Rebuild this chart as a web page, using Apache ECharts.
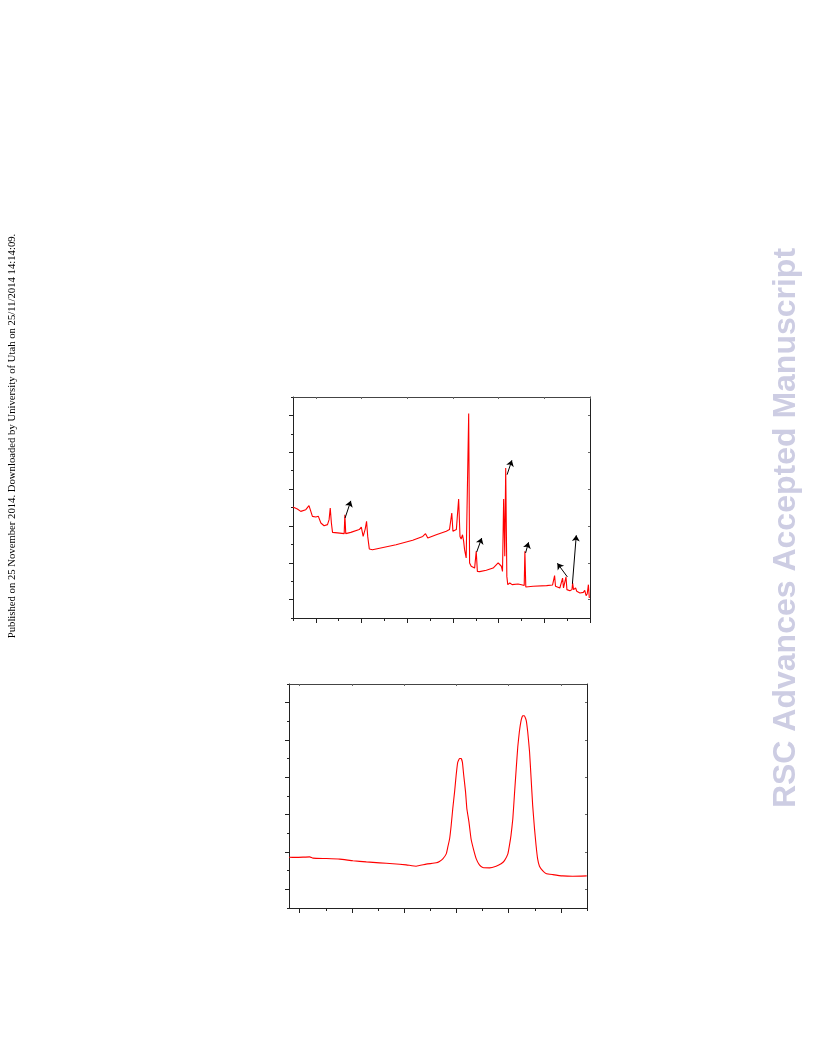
<!DOCTYPE html>
<html>
<head>
<meta charset="utf-8">
<script src="https://cdn.jsdelivr.net/npm/echarts@6/dist/echarts.min.js"></script>
<style>
html,body{margin:0;padding:0;background:#fff;}
#c{width:816px;height:1056px;}
</style>
</head>
<body>
<div id="c"></div>
<script>
// ---- Top chromatogram (arbitrary units, no tick labels in source) ----
const topX = [1.00,1.19,1.34,1.56,1.70,1.78,1.85,2.00,2.11,2.22,2.36,2.51,2.58,2.63,2.68,2.73,2.95,3.24,3.27,3.31,3.53,3.90,3.99,4.07,4.16,4.22,4.27,4.34,4.48,5.51,6.24,6.68,6.80,6.90,7.27,7.71,7.85,7.91,7.95,8.00,8.15,8.25,8.31,8.36,8.42,8.47,8.51,8.58,8.63,8.69,8.73,8.80,8.95,9.01,9.02,9.07,9.17,9.46,9.76,9.98,10.05,10.12,10.17,10.22,10.27,10.31,10.36,10.40,10.49,10.53,10.59,10.85,10.93,11.00,11.12,11.15,11.19,11.51,12.10,12.36,12.42,12.45,12.49,12.68,12.76,12.80,12.84,12.92,12.95,12.99,13.12,13.21,13.24,13.28,13.37,13.42,13.56,13.64,13.71,13.77,13.83,13.88,13.93,13.97,14.00];
const topY = [7.03,6.92,6.79,6.88,7.10,7.15,6.52,6.48,6.52,6.16,6.01,6.07,6.34,6.97,6.16,5.65,5.62,5.58,6.61,5.58,5.65,5.80,5.94,5.43,5.83,6.25,5.43,4.75,4.71,4.98,5.22,5.43,5.58,5.34,5.52,5.71,5.80,5.80,6.70,5.71,5.80,7.46,5.43,5.29,5.52,5.16,4.71,4.26,4.35,12.10,3.99,3.81,3.71,3.62,4.62,3.53,3.52,3.59,3.71,3.99,4.02,3.81,3.53,7.46,4.35,9.14,3.26,2.81,2.90,2.97,2.81,2.85,2.95,2.81,2.76,4.62,2.68,2.72,2.76,2.79,2.72,3.30,2.72,2.63,2.68,3.17,2.63,2.57,3.23,2.54,2.48,2.54,2.90,2.54,2.63,2.45,2.36,2.27,2.39,2.50,2.21,2.32,2.81,2.09,2.09];
const topXMinor = [1,2,3,4,5,6,7,8,9,10,11,12,13,14];
const topXMajor = [2,4,6,8,10,12,14];
const topYMinor = [1,2,3,4,5,6,7,8,9,10,11,12,13];
const topYMajor = [2,4,6,8,10,12];
// arrow annotations: start and end points
const arrowFrom = [[3.28,6.43],[9.04,4.58],[10.37,8.78],[11.18,4.53],[13.01,3.23],[13.23,2.86]];
const arrowTo   = [[3.53,7.36],[9.26,5.34],[10.58,9.56],[11.31,5.11],[12.57,3.97],[13.40,5.49]];

// ---- Bottom chromatogram ----
const botX = [9.59,9.87,10.38,10.51,11.02,11.53,12.04,12.55,13.06,13.57,14.08,14.46,14.84,15.23,15.35,15.48,15.61,15.67,15.74,15.80,15.86,15.93,15.99,16.05,16.12,16.18,16.23,16.28,16.35,16.40,16.48,16.56,16.65,16.76,16.88,17.01,17.27,17.52,17.71,17.84,17.97,18.03,18.09,18.16,18.22,18.29,18.35,18.41,18.48,18.54,18.60,18.67,18.73,18.80,18.86,18.92,18.99,19.05,19.11,19.18,19.31,19.43,19.69,20.07,20.45,20.99];
const botY = [3.72,3.71,3.74,3.67,3.65,3.62,3.53,3.47,3.42,3.37,3.31,3.24,3.35,3.42,3.49,3.63,3.90,4.26,4.71,5.43,6.32,7.22,8.11,8.80,9.01,9.01,8.80,8.11,7.22,6.32,5.61,4.71,4.17,3.63,3.31,3.17,3.15,3.24,3.37,3.54,3.90,4.35,4.89,5.78,7.04,8.47,9.64,10.44,11.07,11.30,11.30,11.07,10.44,9.37,7.94,6.50,5.25,4.35,3.63,3.24,2.99,2.85,2.79,2.72,2.70,2.72];
const botXMinor = [11,12,13,14,15,16,17,18,19,20,21];
const botXMajor = [10,12,14,16,18,20];
const botYMinor = [1,2,3,4,5,6,7,8,9,10,11,12,13];
const botYMajor = [2,4,6,8,10,12];

const sideText = 'Published on 25 November 2014. Downloaded by University of Utah on 25/11/2014 14:14:09.';
const watermark = 'RSC Advances Accepted Manuscript';

const AX = '#222';
function xAxes(g, min, max, minor, major){
  const base = {gridIndex:g, type:'value', min:min, max:max, axisLabel:{show:false}, splitLine:{show:false}};
  return [
    Object.assign({}, base, {position:'bottom', axisLine:{show:true, onZero:false, lineStyle:{color:AX,width:1}},
      axisTick:{show:true, inside:false, length:3, customValues:minor, lineStyle:{color:AX,width:1}}}),
    Object.assign({}, base, {position:'bottom', axisLine:{show:false, onZero:false},
      axisTick:{show:true, inside:false, length:5, customValues:major, lineStyle:{color:AX,width:1}}}),
    Object.assign({}, base, {position:'top', axisLine:{show:true, onZero:false, lineStyle:{color:'#444',width:1}},
      axisTick:{show:true, inside:true, length:2, customValues:major, lineStyle:{color:'#666',width:1}}})
  ];
}
function yAxes(g, min, max, minor, major){
  const base = {gridIndex:g, type:'value', min:min, max:max, axisLabel:{show:false}, splitLine:{show:false}};
  return [
    Object.assign({}, base, {position:'left', axisLine:{show:true, onZero:false, lineStyle:{color:AX,width:1}},
      axisTick:{show:true, inside:false, length:2, customValues:minor, lineStyle:{color:AX,width:1}}}),
    Object.assign({}, base, {position:'left', axisLine:{show:false, onZero:false},
      axisTick:{show:true, inside:false, length:4, customValues:major, lineStyle:{color:AX,width:1}}}),
    Object.assign({}, base, {position:'right', axisLine:{show:true, onZero:false, lineStyle:{color:AX,width:1}},
      axisTick:{show:true, inside:true, length:2, customValues:major, lineStyle:{color:'#666',width:1}}})
  ];
}

const chart = echarts.init(document.getElementById('c'), null, {renderer:'canvas'});
const arrowData = arrowFrom.map((p,i)=>[{coord:p},{coord:arrowTo[i]}]);

chart.setOption({
  animation:false,
  backgroundColor:'#fff',
  grid:[
    {left:293, top:397, width:297, height:221},
    {left:289, top:684, width:298, height:224}
  ],
  xAxis: xAxes(0, 1, 14, topXMinor, topXMajor).concat(xAxes(1, 9.59, 21, botXMinor, botXMajor)),
  yAxis: yAxes(0, 1, 13, topYMinor, topYMajor).concat(yAxes(1, 1, 13, botYMinor, botYMajor)),
  series:[
    {type:'line', xAxisIndex:0, yAxisIndex:0, data: topX.map((x,i)=>[x, topY[i]]),
     showSymbol:false, lineStyle:{color:'#ff0000', width:1.1}, z:3,
     markLine:{silent:true, symbol:['none','arrow'], symbolSize:6, animation:false,
       label:{show:false}, lineStyle:{color:'#000', width:1, type:'solid'}, emphasis:{disabled:true},
       data: arrowData}},
    {type:'line', xAxisIndex:3, yAxisIndex:3, data: botX.map((x,i)=>[x, botY[i]]),
     showSymbol:false, smooth:0.12, lineStyle:{color:'#ff0000', width:1.1}, z:3}
  ],
  graphic:[
    {type:'text', x:12, y:436, rotation:Math.PI/2,
     style:{text:sideText, font:'10.7px "Liberation Serif", "DejaVu Serif", serif', fill:'#000', align:'center', verticalAlign:'middle'}},
    {type:'text', x:786, y:528, rotation:Math.PI/2,
     style:{text:watermark, font:'bold 32px "Liberation Sans", Arial, sans-serif', fill:'#cdcde3', align:'center', verticalAlign:'middle'}}
  ]
});
</script>
</body>
</html>
